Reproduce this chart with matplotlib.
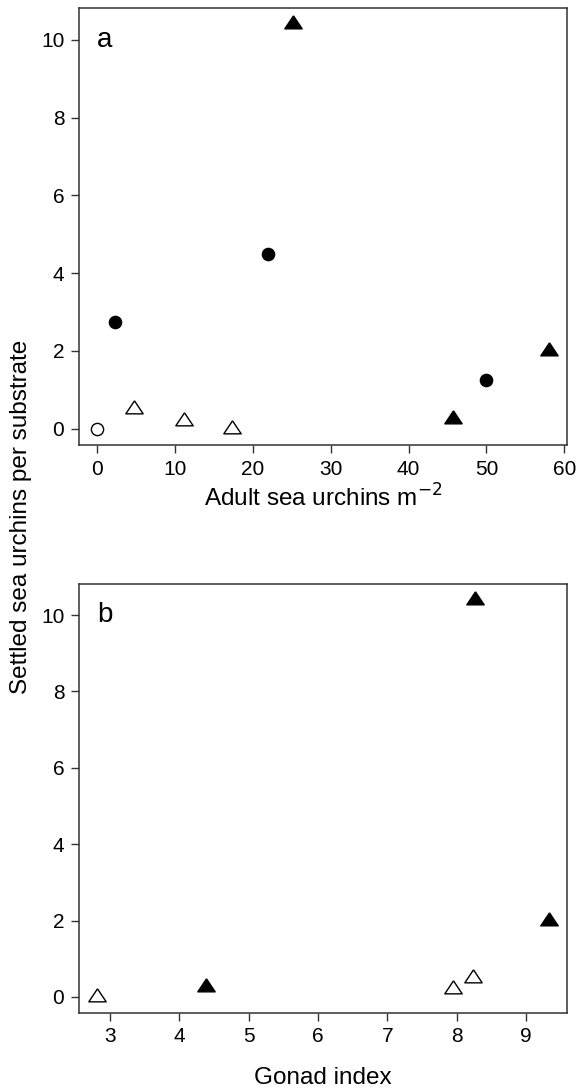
import numpy as np
import matplotlib
matplotlib.use("Agg")
import matplotlib.pyplot as plt

plt.rcParams['font.family'] = ['Liberation Sans', 'DejaVu Sans']

# Panel a: adult density vs settled urchins
adult_open_circle = [0.0]
settled_open_circle = [0.0]
adult_filled_circle = [2.35, 22.0, 49.9]
settled_filled_circle = [2.75, 4.5, 1.25]
adult_open_tri = [4.8, 11.2, 17.3]
settled_open_tri = [0.5, 0.2, 0.0]
adult_filled_tri = [25.2, 45.65, 58.0]
settled_filled_tri = [10.4, 0.25, 2.0]

# Panel b: gonad index vs settled urchins
gonad_open_tri = [8.23, 7.95, 2.81]
gonad_filled_tri = [8.27, 4.38, 9.33]

# R-style triangle (apex up, point at circumcentre)
tri = [(0, 1), (-1, -0.5), (1, -0.5), (0, 1)]
ms_tri = 12.5
ms_circ = 8.8

fig = plt.figure(figsize=(5.76, 10.92), dpi=100)
ax_a = fig.add_axes([0.137, 0.5925, 0.847, 0.4002])
ax_b = fig.add_axes([0.137, 0.0726, 0.847, 0.3926])


def r_limits(vals):
    lo, hi = min(vals), max(vals)
    pad = 0.04 * (hi - lo)
    return lo - pad, hi + pad


all_settled = settled_open_circle + settled_filled_circle + settled_open_tri + settled_filled_tri

ax_a.plot(adult_open_circle, settled_open_circle, ls='none', marker='o', ms=ms_circ,
          mfc='white', mec='black', mew=1.0)
ax_a.plot(adult_filled_circle, settled_filled_circle, ls='none', marker='o', ms=ms_circ,
          mfc='black', mec='black')
ax_a.plot(adult_open_tri, settled_open_tri, ls='none', marker=tri, ms=ms_tri,
          mfc='white', mec='black', mew=1.0)
ax_a.plot(adult_filled_tri, settled_filled_tri, ls='none', marker=tri, ms=ms_tri,
          mfc='black', mec='black')
ax_a.set_xlim(r_limits(adult_open_circle + adult_filled_circle + adult_open_tri + adult_filled_tri))
ax_a.set_ylim(r_limits(all_settled))
ax_a.set_xticks([0, 10, 20, 30, 40, 50, 60])
ax_a.set_yticks([0, 2, 4, 6, 8, 10])
ax_a.set_xlabel('Adult sea urchins m$^{\u22122}$', fontsize=17.5, labelpad=4)
ax_a.text(0, 10, 'a', fontsize=20, ha='left', va='center')

ax_b.plot(gonad_open_tri, settled_open_tri, ls='none', marker=tri, ms=ms_tri,
          mfc='white', mec='black', mew=1.0)
ax_b.plot(gonad_filled_tri, settled_filled_tri, ls='none', marker=tri, ms=ms_tri,
          mfc='black', mec='black')
ax_b.set_xlim(r_limits(gonad_open_tri + gonad_filled_tri))
ax_b.set_ylim(r_limits(all_settled))
ax_b.set_xticks([3, 4, 5, 6, 7, 8, 9])
ax_b.set_yticks([0, 2, 4, 6, 8, 10])
ax_b.set_xlabel('Gonad index', fontsize=17.5, labelpad=15)
ax_b.text(2.81, 10, 'b', fontsize=20, ha='left', va='center')

for ax in (ax_a, ax_b):
    for sp in ax.spines.values():
        sp.set_color('#333333')
        sp.set_linewidth(1.1)
    ax.tick_params(direction='out', length=5.5, width=1.0, color='#333333',
                   labelsize=15, pad=5)

fig.text(0.036, 0.527, 'Settled sea urchins per substrate', rotation=90,
         fontsize=17.5, ha='center', va='center')

fig.savefig('out.png', dpi=100)
